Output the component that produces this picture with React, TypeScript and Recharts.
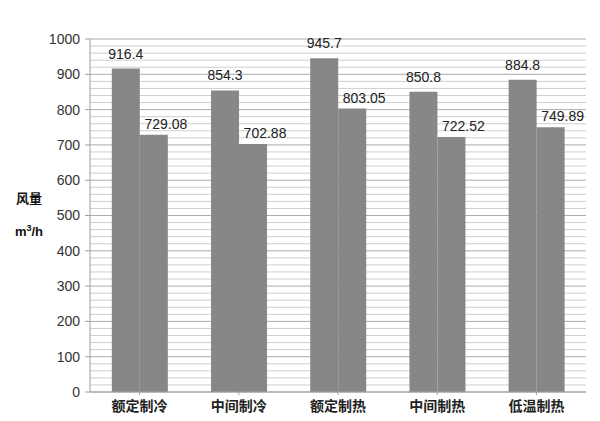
import { BarChart, Bar, XAxis, YAxis, CartesianGrid, LabelList } from 'recharts'

const categories = ['额定制冷', '中间制冷', '额定制热', '中间制热', '低温制热']
const seriesA = [916.4, 854.3, 945.7, 850.8, 884.8]
const seriesB = [729.08, 702.88, 803.05, 722.52, 749.89]
const yTicks = [0, 100, 200, 300, 400, 500, 600, 700, 800, 900, 1000]

const data = categories.map((name, i) => ({ name, a: seriesA[i], b: seriesB[i] }))

// 细网格线：每 20 一条
const minorLines: number[] = []
for (let v = 20; v < 1000; v += 20) if (v % 100 !== 0) minorLines.push(v)

const FONT = 'Arial, "Liberation Sans", "Noto Sans CJK SC", sans-serif'
const BAR = '#878787'

export default function App() {
  return (
    <div style={{ position: 'absolute', left: 0, top: 0, width: 600, height: 421, background: '#fff' }}>
      <BarChart
        width={600}
        height={421}
        data={data}
        margin={{ top: 39, right: 14, bottom: 0, left: 0 }}
        barCategoryGap="22%"
        barGap={0}
        style={{ fontFamily: FONT }}
      >
        <CartesianGrid vertical={false} horizontalValues={minorLines} stroke="#cecece" />
        <CartesianGrid vertical={false} horizontalValues={yTicks} stroke="#acacac" />
        <XAxis
          dataKey="name"
          height={29}
          axisLine={{ stroke: '#a0a0a0' }}
          tickLine={{ stroke: '#a0a0a0' }}
          tickSize={3}
          interval={0}
          tick={{ fill: '#222', fontSize: 14, fontWeight: 600, dy: 4 }}
        />
        <YAxis
          width={90}
          domain={[0, 1000]}
          ticks={yTicks}
          interval={0}
          axisLine={{ stroke: '#a0a0a0' }}
          tickLine={{ stroke: '#a0a0a0' }}
          tickSize={5}
          tick={{ fill: '#333', fontSize: 14, dx: -3 }}
        />
        <Bar dataKey="a" fill={BAR} isAnimationActive={false}>
          <LabelList dataKey="a" position="top" offset={10} fill="#222" fontSize={14} />
        </Bar>
        <Bar dataKey="b" fill={BAR} isAnimationActive={false}>
          <LabelList dataKey="b" position="top" offset={6} dx={12} fill="#222" fontSize={14} />
        </Bar>
        <text x={29} y={203} textAnchor="middle" fontSize={13} fontWeight={700} fill="#111" fontFamily={FONT}>
          风量
        </text>
        <text x={29} y={236} textAnchor="middle" fontSize={13} fontWeight={700} fill="#111" fontFamily={FONT}>
          m<tspan dy={-5} fontSize={9}>3</tspan><tspan dy={5}>/h</tspan>
        </text>
      </BarChart>
    </div>
  )
}
